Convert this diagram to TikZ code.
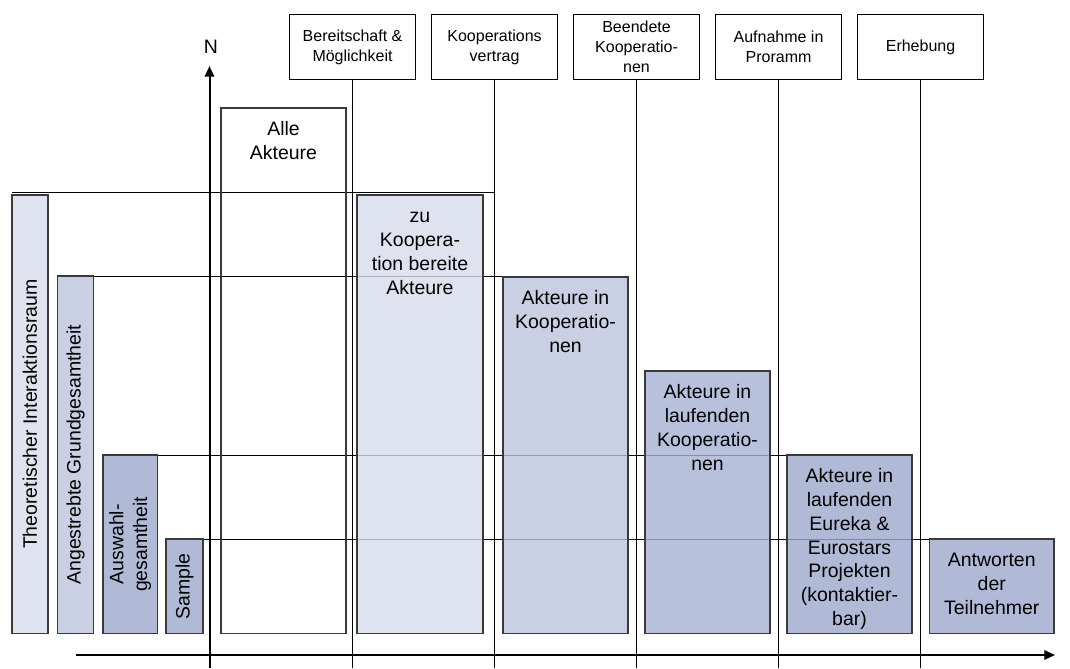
\documentclass[tikz,border=0pt]{standalone}
\usepackage{fontspec}
\setmainfont{Liberation Sans}
\usetikzlibrary{arrows.meta}

% bar fills (used at 80% fill opacity)
\definecolor{barA}{HTML}{D7DCEB}
\definecolor{barB}{HTML}{BCC4DC}
\definecolor{barC}{HTML}{A6B2D3}
\definecolor{barD}{HTML}{9CA9CD}
\definecolor{barline}{HTML}{3A3A3A}

\newcommand\capstrut{\vphantom{Ak}}

\begin{document}
\begin{tikzpicture}[x=0.75pt,y=-0.75pt,
  stage/.style={draw=black, line width=0.8pt, fill=white, inner sep=0pt,
    minimum width=126*0.75pt, minimum height=65*0.75pt, anchor=north west,
    align=center, font=\fontsize{12}{15}\selectfont},
  bar/.style={draw=barline, line width=1pt, fill opacity=0.8, inner sep=0pt,
    outer sep=0pt, anchor=north west},
  bigtext/.style={font=\fontsize{14.6}{17.8}\selectfont, align=center, inner sep=0pt},
  guide/.style={line width=0.75pt, black},
  axis/.style={line width=1.5pt, black,
    -{Triangle[length=8pt, width=7pt]}}]

\useasboundingbox (0,0) rectangle (1070,668);

% stage headers along the top
\node[stage] (s1) at (289,14) {Bereitschaft \&\\Möglichkeit};
\node[stage] (s2) at (431,14) {Kooperations\\vertrag};
\node[stage] (s3) at (573,14) {Beendete\\Kooperatio-\\nen};
\node[stage] (s4) at (715,14) {Aufnahme in\\Proramm};
\node[stage] (s5) at (857,14) {Erhebung};

% stage boundaries running down to the bottom edge
\foreach \s in {s1,s2,s3,s4,s5}{
  \coordinate (\s-end) at (\s.south |- 0,668);
  \draw[guide] (\s.south) -- (\s-end);
}

% axes
\coordinate (ybot) at (209.5,668);
\coordinate (ytop) at (209.5,66);
\coordinate (xleft) at (76,655);
\coordinate (xright) at (1055,655);
\draw[axis] (ybot) -- (ytop);
\draw[axis] (xleft) -- (xright);
\node[font=\fontsize{14.6}{17}\selectfont, inner sep=0pt] (nlab) at (211,47) {N};

% level lines linking each population to its stage
\coordinate (h1a) at (12,192.7);
\draw[guide] (h1a) -- (h1a -| s2.south);
\coordinate (h2a) at (57.5,276);
\coordinate (h2b) at (503,276);
\draw[guide] (h2a) -- (h2b);
\coordinate (h3a) at (103,455);
\coordinate (h3b) at (787,455);
\draw[guide] (h3a) -- (h3b);
\coordinate (h4a) at (166,539);
\coordinate (h4b) at (929.5,539);
\draw[guide] (h4a) -- (h4b);

% populations on the left
\node[bar, fill=barA, minimum width=36*0.75pt, minimum height=438.5*0.75pt] (theo) at (12,195) {};
\node[bar, fill=barB, minimum width=36*0.75pt, minimum height=357.5*0.75pt] (ang) at (57.5,276) {};
\node[bar, fill=barD, minimum width=54.5*0.75pt, minimum height=178.5*0.75pt] (ausw) at (103,455) {};
\node[bar, fill=barD, minimum width=37*0.75pt, minimum height=94.5*0.75pt] (samp) at (166,539) {};

\node[bigtext, rotate=90] (theoT) at (theo.center) {Theoretischer Interaktionsraum};
\node[bigtext, rotate=90] (angT) at (ang.center) {Angestrebte Grundgesamtheit};
\node[bigtext, rotate=90] (auswT) at (ausw.center) {Auswahl-\\gesamtheit};
\node[bigtext, rotate=90] (sampT) at (samp.center) {Sample};

% actors at each stage
\node[bar, minimum width=125*0.75pt, minimum height=525.5*0.75pt] (alle) at (221,108) {};
\node[bar, fill=barA, minimum width=126*0.75pt, minimum height=438.5*0.75pt] (zuko) at (357,195) {};
\node[bar, fill=barB, minimum width=125*0.75pt, minimum height=356.5*0.75pt] (akko) at (503,277) {};
\node[bar, fill=barC, minimum width=125*0.75pt, minimum height=262.5*0.75pt] (lauf) at (645,371) {};
\node[bar, fill=barD, minimum width=125*0.75pt, minimum height=178.5*0.75pt] (eure) at (787,455) {};
\node[bar, fill=barD, minimum width=124.5*0.75pt, minimum height=94.5*0.75pt] (antw) at (929.5,539) {};

\node[bigtext, anchor=north] (alleT) at ([yshift=-10.1pt]alle.north) {\capstrut Alle\\Akteure};
\node[bigtext, anchor=north] (zukoT) at ([yshift=-10.1pt]zuko.north) {\capstrut zu\\Koopera-\\tion bereite\\Akteure};
\node[bigtext, anchor=north] (akkoT) at ([yshift=-10.1pt]akko.north) {\capstrut Akteure in\\Kooperatio-\\nen};
\node[bigtext, anchor=north] (laufT) at ([yshift=-10.1pt]lauf.north) {\capstrut Akteure in\\laufenden\\Kooperatio-\\nen};
\node[bigtext, anchor=north] (eureT) at ([yshift=-10.1pt]eure.north) {\capstrut Akteure in\\laufenden\\Eureka \&\\Eurostars\\Projekten\\(kontaktier-\\bar)};
\node[bigtext, anchor=north] (antwT) at ([yshift=-10.1pt]antw.north) {\capstrut Antworten\\der\\Teilnehmer};

\end{tikzpicture}
\end{document}
